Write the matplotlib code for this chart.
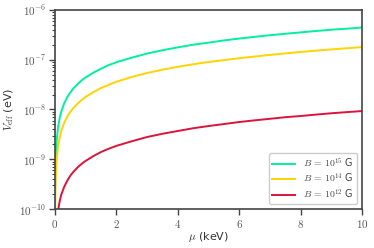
import numpy as np
import matplotlib
matplotlib.use('Agg')
import matplotlib.pyplot as plt
from matplotlib.ticker import FuncFormatter, LogLocator, NullFormatter

plt.rcParams['mathtext.fontset'] = 'cm'
plt.rcParams['font.family'] = 'DejaVu Sans'

# values
mu_kev = [0.002, 0.005, 0.01, 0.02, 0.05, 0.1, 0.15, 0.2, 0.3, 0.4, 0.5, 0.6, 0.75, 0.9,
          1.0, 1.25, 1.5, 1.75, 2.0, 2.5, 3.0, 3.5, 4.0, 4.5, 5.0, 5.5, 6.0, 6.5, 7.0,
          7.5, 8.0, 8.5, 9.0, 9.5, 10.0]
v_b15 = [8.9e-11, 2.2e-10, 4.4e-10, 8.9e-10, 2.2e-9, 4.4e-9, 6.6e-9, 8.9e-9, 1.33e-8, 1.77e-8,
         2.2e-8, 2.66e-8, 3.3e-8, 4.0e-8, 4.4e-8, 5.5e-8, 6.6e-8, 7.8e-8, 8.9e-8, 1.1e-7,
         1.33e-7, 1.55e-7, 1.77e-7, 2.0e-7, 2.2e-7, 2.44e-7, 2.66e-7, 2.88e-7, 3.1e-7,
         3.32e-7, 3.54e-7, 3.77e-7, 4.0e-7, 4.2e-7, 4.43e-7]
v_b14 = [3.6e-11, 9.0e-11, 1.8e-10, 3.6e-10, 9.0e-10, 1.8e-9, 2.7e-9, 3.6e-9, 5.4e-9, 7.2e-9,
         9.0e-9, 1.07e-8, 1.34e-8, 1.61e-8, 1.79e-8, 2.24e-8, 2.7e-8, 3.13e-8, 3.6e-8, 4.5e-8,
         5.4e-8, 6.3e-8, 7.2e-8, 8.1e-8, 9.0e-8, 9.8e-8, 1.07e-7, 1.16e-7, 1.25e-7,
         1.34e-7, 1.43e-7, 1.52e-7, 1.61e-7, 1.7e-7, 1.79e-7]
v_b12 = [1.9e-12, 4.7e-12, 9.3e-12, 1.9e-11, 4.7e-11, 9.3e-11, 1.4e-10, 1.9e-10, 2.8e-10, 3.7e-10,
         4.7e-10, 5.6e-10, 7.0e-10, 8.4e-10, 9.3e-10, 1.16e-9, 1.4e-9, 1.63e-9, 1.86e-9, 2.3e-9,
         2.8e-9, 3.25e-9, 3.7e-9, 4.2e-9, 4.65e-9, 5.1e-9, 5.6e-9, 6.05e-9, 6.5e-9,
         7.0e-9, 7.4e-9, 7.9e-9, 8.4e-9, 8.85e-9, 9.3e-9]
labels = [r'$B\,=\,10^{15}$ G', r'$B\,=\,10^{14}$ G', r'$B\,=\,10^{12}$ G']
colors = ['#00f0a0', '#ffd400', '#dc143c']

fig = plt.figure(figsize=(3.74, 2.48), dpi=100)
ax = fig.add_axes([0.147, 0.157, 0.821, 0.803])

for vals, lab, c in zip([v_b15, v_b14, v_b12], labels, colors):
    ax.plot(mu_kev, vals, color=c, lw=1.4, label=lab)

ax.set_yscale('log')
ax.set_xlim(0, 10)
ax.set_ylim(1e-10, 1e-6)
ax.set_xticks([0, 2, 4, 6, 8, 10])
ax.xaxis.set_major_formatter(FuncFormatter(lambda v, p: r'$%d$' % v))
ax.yaxis.set_major_locator(LogLocator(base=10, numticks=10))
ax.yaxis.set_minor_locator(LogLocator(base=10, subs=np.arange(2, 10), numticks=20))
ax.yaxis.set_major_formatter(FuncFormatter(lambda v, p: r'$10^{%d}$' % round(np.log10(v))))
ax.yaxis.set_minor_formatter(NullFormatter())

for s in ax.spines.values():
    s.set_color('#444444')
    s.set_linewidth(1.2)
ax.tick_params(axis='both', which='major', labelsize=8, colors='#444444',
               labelcolor='#555555', width=1.0, length=4, pad=2.5)
ax.tick_params(axis='y', which='minor', colors='#444444', width=0.8, length=2.5)

ax.set_xlabel(r'$\mu$ (keV)', fontsize=8, color='#333333', labelpad=0)
ax.set_ylabel(r'$V_{\rm eff}$ (eV)', fontsize=8, color='#333333', labelpad=2)

leg = ax.legend(loc='lower right', fontsize=7, handlelength=2.4, labelspacing=0.25,
                borderpad=0.35, handletextpad=0.8, framealpha=1.0)
for t in leg.get_texts():
    t.set_color('#444444')

fig.savefig('out.png', dpi=100)
